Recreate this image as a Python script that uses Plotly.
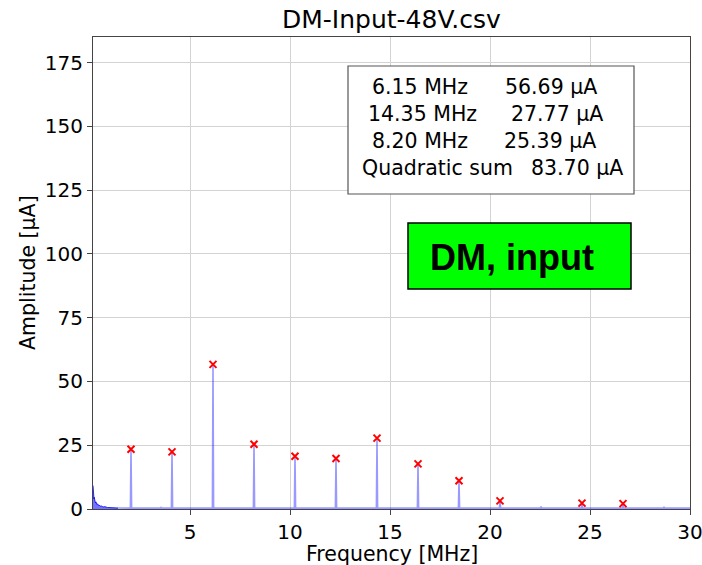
import plotly.graph_objects as go

# Harmonic peaks of the DM input current spectrum (MHz, µA)
peak_freq = [2.05, 4.10, 6.15, 8.20, 10.25, 12.30, 14.35, 16.40, 18.45, 20.50, 24.60, 26.65]
peak_amp = [23.4, 22.4, 56.69, 25.39, 20.7, 19.8, 27.77, 17.7, 11.1, 3.2, 2.3, 2.1]

# Small unmarked spurs
spur_freq = [3.55, 22.55, 28.70]
spur_amp = [0.6, 1.0, 0.8]

# Low-frequency region of the spectrum
low_freq = [0.15, 0.16, 0.17, 0.18, 0.19, 0.20, 0.21, 0.23, 0.25, 0.27, 0.30, 0.33,
            0.36, 0.40, 0.45, 0.50, 0.57, 0.65, 0.75, 0.87, 1.00, 1.20, 1.40]
low_amp = [9.2, 6.0, 8.1, 4.8, 6.3, 3.9, 4.6, 3.1, 3.6, 2.4, 2.8, 1.9,
           2.1, 1.5, 1.6, 1.1, 1.2, 0.8, 0.9, 0.6, 0.6, 0.45, 0.4]

floor_amp = 0.35
f_min, f_max = 0.15, 30.0

# Table rows shown in the inset box
table_rows = [("6.15 MHz", "56.69 µA"), ("14.35 MHz", "27.77 µA"),
              ("8.20 MHz", "25.39 µA"), ("Quadratic sum", "83.70 µA")]

# Spectrum trace: narrow spikes on the noise floor
spikes = sorted(list(zip(peak_freq, peak_amp)) + list(zip(spur_freq, spur_amp)))
xs = [low_freq[-1]]
ys = [low_amp[-1]]
for f, a in spikes:
    xs += [f - 0.03, f, f + 0.03]
    ys += [floor_amp, a, floor_amp]
xs.append(f_max)
ys.append(floor_amp)

fig = go.Figure()
fig.add_trace(go.Scatter(x=low_freq, y=low_amp, mode="lines", fill="tozeroy",
                         fillcolor="rgba(0,0,255,0.55)",
                         line=dict(color="rgba(0,0,255,0.8)", width=1),
                         hoverinfo="skip", showlegend=False))
fig.add_trace(go.Scatter(x=xs, y=ys, mode="lines",
                         line=dict(color="rgba(0,0,255,0.4)", width=1.6),
                         hoverinfo="skip", showlegend=False))
fig.add_trace(go.Scatter(x=peak_freq, y=peak_amp, mode="markers",
                         marker=dict(symbol="x-thin", size=7, color="red",
                                     line=dict(color="red", width=2)),
                         showlegend=False))

# Plot area geometry in pixels
L, R, T, B = 93, 690, 37, 509
W, H = 702, 565


def px(x):
    return (x - L) / (R - L)


def py(y):
    return (B - y) / (B - T)


FS = 20.5
font = dict(family="DejaVu Sans", size=FS, color="black")
tick_font = dict(family="DejaVu Sans", size=20, color="black")

shapes = [
    dict(type="rect", xref="paper", yref="paper", x0=px(348), x1=px(634),
         y0=py(194), y1=py(66), fillcolor="white",
         line=dict(color="#555555", width=1.2), layer="above"),
    dict(type="rect", xref="paper", yref="paper", x0=px(408), x1=px(631),
         y0=py(289), y1=py(223), fillcolor="#00ff00",
         line=dict(color="black", width=1.5), layer="above"),
]

annotations = []
row_y = [87, 114, 141, 168]
left_cx = [420, 422, 420, 438]
right_cx = [551, 557, 550, 577]
for (a, b), y, lx, rx in zip(table_rows, row_y, left_cx, right_cx):
    annotations.append(dict(text=a, x=px(lx), y=py(y), xref="paper", yref="paper",
                            xanchor="center", yanchor="middle", showarrow=False, font=font))
    annotations.append(dict(text=b, x=px(rx), y=py(y), xref="paper", yref="paper",
                            xanchor="center", yanchor="middle", showarrow=False, font=font))

annotations.append(dict(text="<b>DM, input</b>", x=px(428), y=py(257), xref="paper", yref="paper",
                        xanchor="left", yanchor="middle", showarrow=False,
                        font=dict(family="Liberation Sans", size=36, color="black")))

# Title and axis titles
annotations.append(dict(text="DM-Input-48V.csv", x=px((L + R) / 2), y=py(20),
                        xref="paper", yref="paper", xanchor="center", yanchor="middle",
                        showarrow=False, font=dict(family="DejaVu Sans", size=25, color="black")))
annotations.append(dict(text="Frequency [MHz]", x=px((L + R) / 2), y=py(568),
                        xref="paper", yref="paper", xanchor="center", yanchor="bottom",
                        showarrow=False, font=font))
annotations.append(dict(text="Amplitude [µA]", x=px(28), y=py((T + B) / 2), textangle=-90,
                        xref="paper", yref="paper", xanchor="center", yanchor="middle",
                        showarrow=False, font=font))

axis_common = dict(showgrid=True, gridcolor="#d3d3d3", gridwidth=1,
                   showline=True, linecolor="#444444", linewidth=1.2, mirror=True,
                   ticks="outside", ticklen=5, tickcolor="#444444",
                   tickfont=tick_font, zeroline=False, automargin=False,
                   ticklabeloverflow="allow")

fig.update_layout(
    width=W, height=H,
    margin=dict(l=L, r=W - R, t=T, b=H - B),
    plot_bgcolor="white", paper_bgcolor="white",
    xaxis=dict(range=[f_min, f_max], tickvals=[5, 10, 15, 20, 25, 30], **axis_common),
    yaxis=dict(range=[0, 185], tickvals=[0, 25, 50, 75, 100, 125, 150, 175], **axis_common),
    shapes=shapes, annotations=annotations,
)

fig.write_html("out.html")
